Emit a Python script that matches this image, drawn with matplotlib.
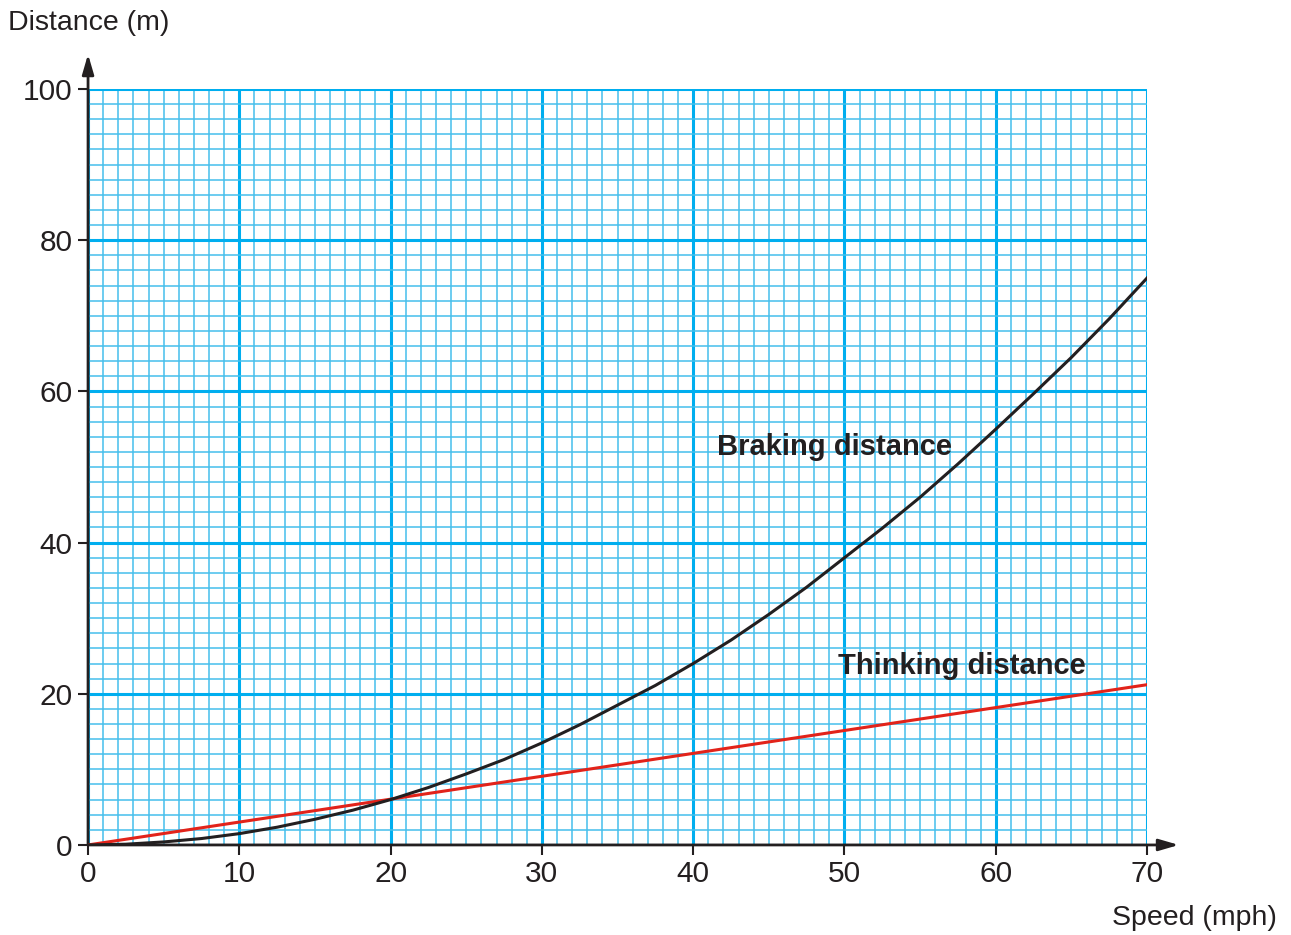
import matplotlib
matplotlib.use("Agg")
import matplotlib.pyplot as plt
from matplotlib.ticker import MultipleLocator

# values
speed = [0, 2.5, 5, 7.5, 10, 12.5, 15, 17.5, 20, 22.5, 25, 27.5, 30, 32.5,
         35, 37.5, 40, 42.5, 45, 47.5, 50, 52.5, 55, 57.5, 60, 62.5, 65,
         67.5, 70]
braking = [0, 0.1, 0.4, 0.85, 1.5, 2.35, 3.4, 4.6, 6, 7.6, 9.4, 11.3, 13.5,
           15.9, 18.5, 21.1, 24, 27.1, 30.5, 34.1, 38, 41.9, 46, 50.4, 55,
           59.7, 64.5, 69.6, 75]
think_speed = [0, 70]
thinking = [0, 21.2]

x_ticks = [0, 10, 20, 30, 40, 50, 60, 70]
y_ticks = [0, 20, 40, 60, 80, 100]

plt.rcParams['font.family'] = ['Liberation Sans', 'DejaVu Sans']

fig = plt.figure(figsize=(12.91, 9.35), dpi=100)
ax = fig.add_axes([0.0682, 0.0963, 0.8203, 0.8085])
ax.set_xlim(0, 70)
ax.set_ylim(0, 100)

# graph paper
ax.xaxis.set_major_locator(MultipleLocator(10))
ax.yaxis.set_major_locator(MultipleLocator(20))
ax.xaxis.set_minor_locator(MultipleLocator(1))
ax.yaxis.set_minor_locator(MultipleLocator(2))
ax.grid(which='minor', color='#45bfec', linewidth=1.1)
ax.grid(which='major', color='#00aeef', linewidth=2.2)
ax.set_axisbelow(True)
ax.tick_params(which='minor', length=0)
ax.tick_params(which='major', length=7, width=1.5, direction='out',
               labelsize=21.5, color='#231f20', labelcolor='#231f20', pad=4)
ax.set_xticks(x_ticks)
ax.set_yticks(y_ticks)

for s in ['top', 'right', 'left', 'bottom']:
    ax.spines[s].set_visible(False)

# axes with arrows
ax.annotate('', xy=(72.1, 0), xytext=(0, 0), annotation_clip=False,
            arrowprops=dict(arrowstyle='-|>,head_length=1.2,head_width=0.35',
                            color='#231f20', lw=2, shrinkA=0, shrinkB=0))
ax.annotate('', xy=(0, 104.6), xytext=(0, 0), annotation_clip=False,
            arrowprops=dict(arrowstyle='-|>,head_length=1.2,head_width=0.35',
                            color='#231f20', lw=2, shrinkA=0, shrinkB=0))

ax.plot(think_speed, thinking, color='#e2231a', linewidth=2.2, zorder=3)
ax.plot(speed, braking, color='#231f20', linewidth=2.2, zorder=4,
        solid_joinstyle='round')

ax.text(41.6, 52.6, 'Braking distance', fontsize=21, fontweight='bold',
        color='#231f20', va='center', ha='left', zorder=5)
ax.text(49.6, 23.7, 'Thinking distance', fontsize=21, fontweight='bold',
        color='#231f20', va='center', ha='left', zorder=5)

fig.text(8 / 1291, 1 - 23 / 935, 'Distance (m)', fontsize=20.5,
         color='#231f20', va='center', ha='left')
fig.text(1277 / 1291, 1 - 918 / 935, 'Speed (mph)', fontsize=20.5,
         color='#231f20', va='center', ha='right')

fig.savefig('out.png', dpi=100)
